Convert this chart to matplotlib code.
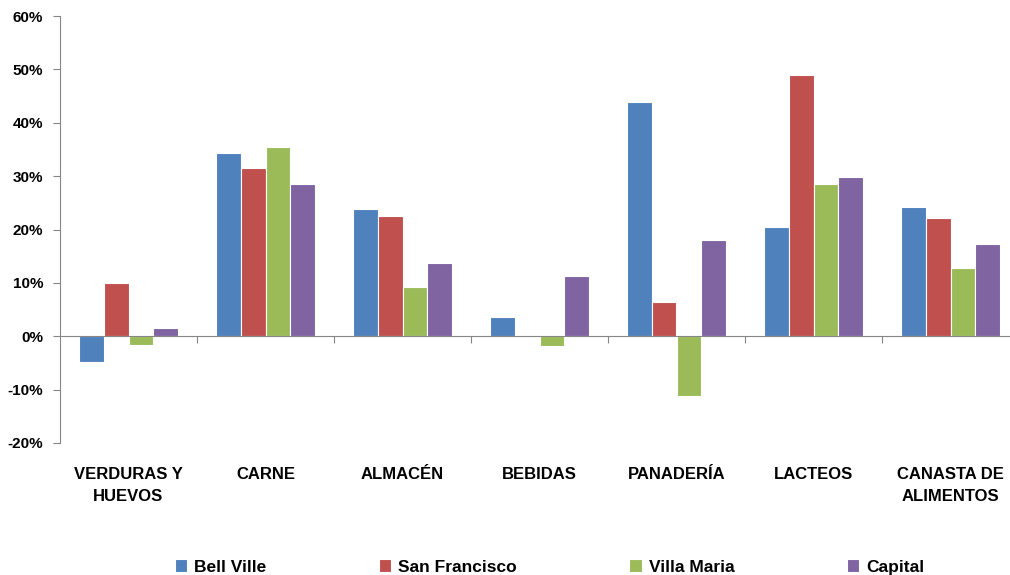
import numpy as np
import matplotlib.pyplot as plt
from matplotlib.ticker import FuncFormatter

plt.rcParams['font.family'] = ['Liberation Sans', 'DejaVu Sans']
plt.rcParams['font.weight'] = 'bold'

categories = ["VERDURAS Y\nHUEVOS", "CARNE", "ALMACÉN", "BEBIDAS",
              "PANADERÍA", "LACTEOS", "CANASTA DE\nALIMENTOS"]
series = ["Bell Ville", "San Francisco", "Villa Maria", "Capital"]
bell_ville = [-4.8, 34.3, 23.8, 3.6, 43.8, 20.4, 24.2]
san_francisco = [10.0, 31.6, 22.6, 0.0, 6.4, 48.9, 22.1]
villa_maria = [-1.7, 35.5, 9.3, -1.9, -11.2, 28.6, 12.8]
capital = [1.5, 28.6, 13.7, 11.2, 18.1, 29.8, 17.3]
colors = ["#4F81BD", "#C0504D", "#9BBB59", "#8064A2"]

values = [bell_ville, san_francisco, villa_maria, capital]

fig = plt.figure(figsize=(10.1, 5.75), dpi=100)
ax = fig.add_axes([60 / 1010, 1 - 443 / 575, 959 / 1010, 427 / 575])

x = np.arange(len(categories))
w = 0.182
for i, (name, vals) in enumerate(zip(series, values)):
    ax.bar(x + (i - 1.5) * w, vals, w, color=colors[i], edgecolor="white",
           linewidth=0.8, label=name, zorder=2)

ax.set_xlim(-0.5, len(categories) - 0.5)
ax.set_ylim(-20, 60)
ax.set_yticks(np.arange(-20, 61, 10))
ax.yaxis.set_major_formatter(FuncFormatter(lambda v, p: "%d%%" % v))
ax.tick_params(axis="y", direction="out", length=5, color="#868686",
               labelsize=11, pad=7)

ax.spines["top"].set_visible(False)
ax.spines["right"].set_visible(False)
ax.spines["left"].set_color("#868686")
ax.spines["bottom"].set_color("#868686")
ax.spines["bottom"].set_position(("data", 0))
ax.spines["bottom"].set_zorder(3)

ax.set_xticks(np.arange(0.5, len(categories) - 0.5, 1))
ax.set_xticklabels([])
ax.tick_params(axis="x", direction="out", length=5, color="#868686")

for xi, lab in zip(x, categories):
    ax.text(xi, -0.056, lab, transform=ax.get_xaxis_transform(), ha="center",
            va="top", fontsize=12, fontweight="bold", linespacing=1.6)

fig.legend(loc="center", bbox_to_anchor=(0.544, 0.014), ncol=4, frameon=False,
           fontsize=12.5, handlelength=0.7, handleheight=0.7,
           handletextpad=0.4, columnspacing=6.5)

fig.savefig("out.png", dpi=100)
